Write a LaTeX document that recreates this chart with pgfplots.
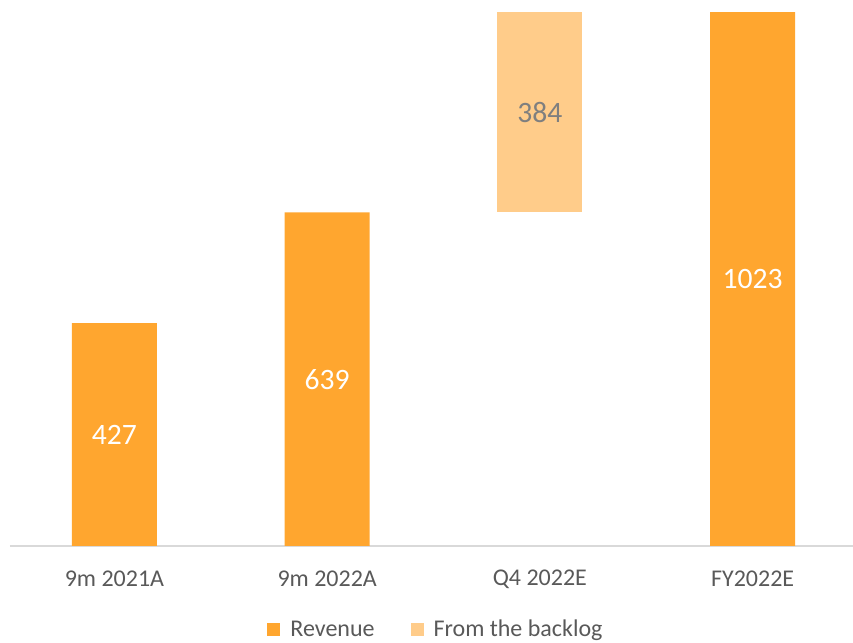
\documentclass[border=0pt]{standalone}
\usepackage{fontspec}
\setmainfont{Carlito}
\usepackage{pgfplots}
\pgfplotsset{compat=1.18}
\definecolor{rev}{HTML}{FFA62F}
\definecolor{backlog}{HTML}{FFCC8A}
\definecolor{txt}{HTML}{595959}
\definecolor{lbl}{HTML}{7F7F7F}
\definecolor{axisgray}{HTML}{D9D9D9}
\begin{document}
\begin{tikzpicture}
\path[use as bounding box] (0,0) rectangle (426.5pt,321.5pt);
\begin{axis}[
    at={(5pt,48.5pt)}, anchor=south west,
    scale only axis, width=421.5pt, height=273pt,
    ybar stacked, bar width=42.5pt,
    xmin=-0.491, xmax=3.472, ymin=0, ymax=1046,
    axis x line*=bottom, axis y line=none,
    axis line style={axisgray, line width=1pt},
    xtick={0,1,2,3},
    xticklabels={9m 2021A, 9m 2022A, Q4 2022E, FY2022E},
    major tick length=0pt,
    xticklabel style={font=\fontsize{12}{14}\selectfont, text=txt, anchor=center, yshift=-16.5pt},
    legend image code/.code={\fill[#1] (0pt,-3.25pt) rectangle (6.5pt,3.25pt);},
    legend style={at={(0.5065,-0.1538)}, anchor=center, draw=none, legend columns=2,
        font=\fontsize{12}{14}\selectfont, text=txt,
        /tikz/every odd column/.append style={column sep=3pt},
        /tikz/every even column/.append style={column sep=16pt}},
    clip=false,
]
% revenue
\addplot[fill=rev, draw=none, point meta=explicit symbolic, nodes near coords,
    every node near coord/.append style={text=white, font=\fontsize{14.8}{17}\selectfont,
        anchor=center}]
    coordinates {(0,427)[427] (1,639)[639] (2,0)[] (3,1023)[1023]};
% invisible base for Q4
\addplot[fill=none, draw=none, forget plot]
    coordinates {(0,0) (1,0) (2,639) (3,0)};
% from the backlog
\addplot[fill=backlog, draw=none, point meta=explicit symbolic, nodes near coords,
    every node near coord/.append style={text=lbl, font=\fontsize{14.8}{17}\selectfont,
        anchor=center}]
    coordinates {(0,0)[] (1,0)[] (2,384)[384] (3,0)[]};
\legend{Revenue, From the backlog}
\end{axis}
\end{tikzpicture}
\end{document}
